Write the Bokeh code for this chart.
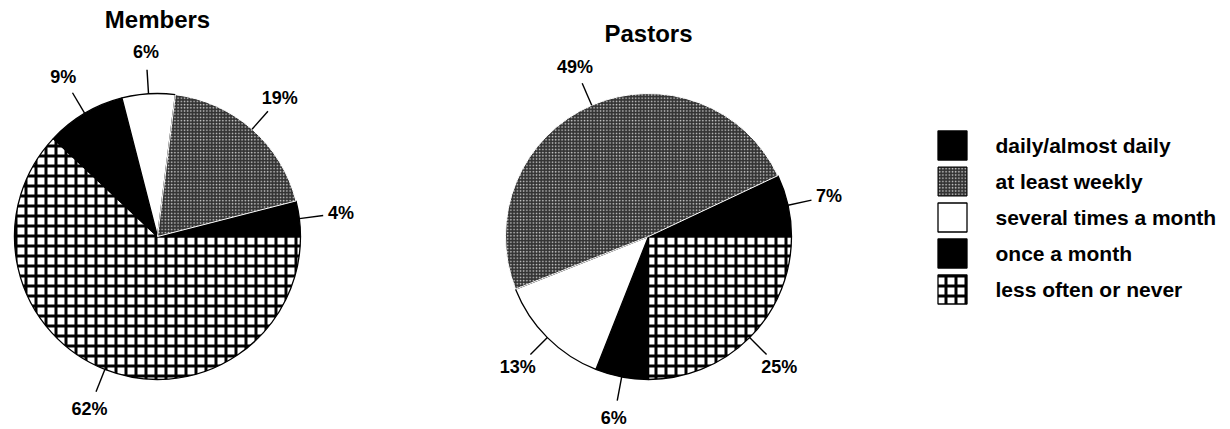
import math
from bokeh.plotting import figure
from bokeh.models import Range1d
from bokeh.core.properties import value
from bokeh.embed import file_html
from bokeh.resources import INLINE

# --- data -------------------------------------------------------------
categories = ["daily/almost daily", "at least weekly", "several times a month",
              "once a month", "less often or never"]
members = [4, 19, 6, 9, 62]
pastors = [7, 49, 13, 6, 25]
panel_titles = ["Members", "Pastors"]

# --- styling per category ---------------------------------------------
STYLE = {
    "daily/almost daily": dict(fill_color="black", hatch_pattern=None, line_color="black"),
    "at least weekly": dict(fill_color="#333333", hatch_pattern="dot", line_color="white"),
    "several times a month": dict(fill_color="white", hatch_pattern=None, line_color="black"),
    "once a month": dict(fill_color="black", hatch_pattern=None, line_color="black"),
    "less often or never": dict(fill_color="white", hatch_pattern="cross", line_color="black"),
}
HATCH = {
    "dot": dict(hatch_color="#d0d0d0", hatch_scale=3.2, hatch_weight=1.0),
    "cross": dict(hatch_color="black", hatch_scale=10, hatch_weight=3),
}
DRAW_ORDER = ["less often or never", "daily/almost daily", "once a month",
              "several times a month", "at least weekly"]

W, H = 1230, 429
FONT = value("Liberation Sans")

p = figure(width=W, height=H, x_range=Range1d(0, W), y_range=Range1d(0, H),
           x_axis_type=None, y_axis_type=None, toolbar_location=None,
           output_backend="svg", min_border=0, outline_line_color=None,
           background_fill_color="white", border_fill_color="white")
p.grid.visible = False

R = 143
centers = [(157, H - 236), (648, H - 236)]
title_y = [H - 19, H - 33]


def style_kwargs(cat):
    st = STYLE[cat]
    kw = dict(fill_color=st["fill_color"], line_color=st["line_color"],
              line_width=1.3 if st["line_color"] == "black" else 1.0)
    if st["hatch_pattern"]:
        kw["hatch_pattern"] = st["hatch_pattern"]
        kw.update(HATCH[st["hatch_pattern"]])
    return kw


for (cx, cy), vals, title, ty in zip(centers, [members, pastors], panel_titles, title_y):
    total = float(sum(vals))
    starts, ends = [], []
    acc = 0.0
    for v in vals:
        starts.append(2 * math.pi * acc / total)
        acc += v
        ends.append(2 * math.pi * acc / total)

    # wedges, counter-clockwise from 3 o'clock
    for cat in DRAW_ORDER:
        i = categories.index(cat)
        p.wedge(x=cx, y=cy, radius=R, start_angle=starts[i], end_angle=ends[i],
                direction="anticlock", **style_kwargs(cat))

    # leader lines and percentage labels at each slice's mid-angle
    lx0, ly0, lx1, ly1, tx, ty_, txt = [], [], [], [], [], [], []
    for i, v in enumerate(vals):
        mid = (starts[i] + ends[i]) / 2
        c, s = math.cos(mid), math.sin(mid)
        lx0.append(cx + R * c)
        ly0.append(cy + R * s)
        lx1.append(cx + (R + 24) * c)
        ly1.append(cy + (R + 24) * s)
        tx.append(cx + (R + 42) * c)
        ty_.append(cy + (R + 42) * s)
        txt.append(f"{v}%")
    p.segment(x0=lx0, y0=ly0, x1=lx1, y1=ly1, line_color="black", line_width=1.4)
    p.text(x=tx, y=ty_, text=txt, text_font=FONT, text_font_style="bold",
           text_font_size="18px", text_align="center", text_baseline="middle",
           text_color="black")

    p.text(x=[cx], y=[ty], text=[title], text_font=FONT, text_font_style="bold",
           text_font_size="24px", text_align="center", text_baseline="middle",
           text_color="black")

# --- legend -----------------------------------------------------------
leg_x, leg_top, leg_step, box = 952, H - 145, 36, 29
for k, cat in enumerate(categories):
    yy = leg_top - k * leg_step
    kw = style_kwargs(cat)
    if cat == "at least weekly":
        kw["line_color"] = "black"
    p.rect(x=[leg_x], y=[yy], width=box, height=box, **kw)
    p.text(x=[leg_x + 43], y=[yy], text=[cat], text_font=FONT, text_font_style="bold",
           text_font_size="21px", text_align="left", text_baseline="middle",
           text_color="black")

open("out.html", "w").write(file_html(p, INLINE))
